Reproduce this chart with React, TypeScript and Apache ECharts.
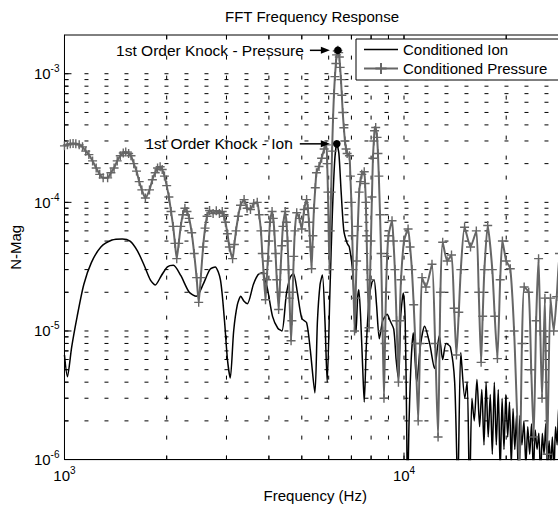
import React, { useEffect, useRef } from "react";
import * as echarts from "echarts";

const TITLE = "FFT Frequency Response";
const X_NAME = "Frequency (Hz)";
const Y_NAME = "N-Mag";
const ION_NAME = "Conditioned Ion";
const PRESSURE_NAME = "Conditioned Pressure";

const X_MIN = 1000;
const X_MAX = 30000;
const Y_MIN = 1e-6;
const Y_MAX = 2e-3;

const xGridValues = [2000, 3000, 4000, 5000, 6000, 7000, 8000, 9000, 10000, 20000];
const yGridValues = [
  2e-6, 3e-6, 4e-6, 5e-6, 6e-6, 7e-6, 8e-6, 9e-6, 1e-5,
  2e-5, 3e-5, 4e-5, 5e-5, 6e-5, 7e-5, 8e-5, 9e-5, 1e-4,
  2e-4, 3e-4, 4e-4, 5e-4, 6e-4, 7e-4, 8e-4, 9e-4, 1e-3,
];

// [frequency Hz, magnitude]
const ionPoints: [number, number][] = [
  [1000, 6.5e-6], [1020, 4.4e-6], [1050, 7.5e-6], [1090, 1.3e-5], [1140, 2.3e-5], [1200, 3.4e-5],
  [1280, 4.5e-5], [1380, 5.1e-5], [1480, 5.2e-5], [1560, 5e-5], [1640, 4.2e-5], [1720, 3.2e-5],
  [1790, 2.5e-5], [1851, 2.28e-5], [1930, 2.7e-5], [2010, 3.15e-5], [2093, 3.24e-5], [2200, 2.7e-5],
  [2330, 2e-5], [2446, 1.86e-5], [2560, 2.3e-5], [2680, 3e-5], [2779, 3.15e-5], [2880, 2.5e-5],
  [2960, 1.2e-5], [3020, 6e-6], [3078, 4.3e-6], [3150, 1e-5], [3230, 1.6e-5], [3306, 1.86e-5],
  [3380, 1.7e-5], [3457, 1.63e-5], [3600, 2.3e-5], [3720, 2.75e-5], [3821, 2.83e-5], [3950, 2.2e-5],
  [4100, 1.3e-5], [4250, 1.05e-5], [4369, 1e-5], [4500, 1.9e-5], [4620, 2.6e-5], [4726, 2.8e-5],
  [4850, 2e-5], [5000, 1.25e-5], [5166, 1.16e-5], [5300, 7e-6], [5464, 3.3e-6], [5560, 1.2e-5],
  [5660, 2.3e-5], [5750, 2.72e-5], [5850, 1.2e-5], [5940, 4e-6], [6050, 2e-5], [6150, 8e-5],
  [6250, 2.1e-4], [6340, 2.85e-4], [6430, 2.4e-4], [6530, 1.2e-4], [6650, 6e-5], [6800, 4.8e-5],
  [6900, 4.5e-5], [7050, 3e-5], [7150, 1.5e-5], [7219, 9.7e-6], [7300, 1.8e-5], [7360, 2.09e-5],
  [7450, 1.3e-5], [7560, 5e-6], [7636, 2.8e-6], [7750, 8e-6], [7900, 1.8e-5], [8050, 2.4e-5],
  [8165, 2.49e-5], [8300, 1.6e-5], [8460, 8.7e-6], [8650, 1.2e-5], [8800, 1.3e-5], [8915, 1.35e-5],
  [9100, 1.2e-5], [9330, 1.03e-5], [9480, 6e-6], [9640, 4.2e-6], [9780, 1.3e-5], [9950, 1.97e-5],
  [10080, 1.2e-5], [10180, 2e-6], [10240, 5e-7], [10350, 2e-6], [10500, 6e-6], [10650, 9.7e-6],
  [10900, 4e-6], [11200, 8e-6], [11500, 1.09e-5], [11900, 8e-6], [12300, 5.1e-6], [12700, 9.2e-6],
  [13000, 6e-6], [13300, 8e-6], [13700, 7.5e-6], [14100, 4e-6], [14400, 6e-7], [14700, 6.8e-6],
  [15100, 3e-6], [15350, 4e-6], [15600, 5e-7], [15850, 3e-6], [16100, 2e-6], [16400, 4.2e-6],
  [16700, 1.8e-6], [16950, 3.5e-6], [17200, 1.3e-6], [17450, 4e-6], [17700, 1.5e-6], [17950, 3.2e-6],
  [18200, 1.1e-6], [18450, 4e-6], [18700, 1.3e-6], [18950, 3.5e-6], [19200, 8e-7], [19450, 3e-6],
  [19700, 1.2e-6], [19950, 3.2e-6], [20200, 1.5e-6], [20450, 2.8e-6], [20700, 9e-7], [20950, 2.5e-6],
  [21200, 1.2e-6], [21450, 2.2e-6], [21700, 8e-7], [21950, 2.2e-6], [22250, 1.3e-6], [22550, 2e-6],
  [22850, 9e-7], [23150, 1.8e-6], [23450, 1.1e-6], [23750, 1.9e-6], [24050, 8e-7], [24350, 1.7e-6],
  [24650, 1.2e-6], [24950, 1.6e-6], [25250, 7e-7], [25550, 1.6e-6], [25850, 1.1e-6], [26150, 1.9e-6],
  [26450, 8e-7], [26750, 1.4e-6], [27050, 9e-7], [27350, 1.5e-6], [27650, 8e-7], [27950, 1.8e-6],
  [28250, 1.3e-6], [28550, 2.6e-6], [28850, 1.5e-6], [29150, 2.5e-6], [29450, 1.4e-6], [29750, 2.2e-6],
  [30000, 1.8e-6],
];

const pressurePoints: [number, number][] = [
  [1000, 2.75e-4], [1020, 2.8e-4], [1040, 2.85e-4], [1060, 2.87e-4], [1080, 2.85e-4], [1105, 2.8e-4],
  [1130, 2.7e-4], [1155, 2.5e-4], [1180, 2.35e-4], [1210, 2.1e-4], [1240, 1.85e-4], [1270, 1.65e-4],
  [1300, 1.55e-4], [1340, 1.55e-4], [1370, 1.7e-4], [1400, 1.85e-4], [1430, 2.1e-4], [1460, 2.3e-4],
  [1490, 2.42e-4], [1515, 2.46e-4], [1545, 2.4e-4], [1570, 2.3e-4], [1600, 2e-4], [1630, 1.75e-4],
  [1660, 1.45e-4], [1690, 1.25e-4], [1731, 1.08e-4], [1780, 1.25e-4], [1815, 1.5e-4], [1850, 1.7e-4],
  [1880, 1.85e-4], [1913, 1.89e-4], [1940, 1.8e-4], [1970, 1.6e-4], [2000, 1.35e-4], [2030, 1.1e-4],
  [2060, 8.5e-5], [2090, 6.5e-5], [2115, 4.8e-5], [2141, 3.65e-5], [2170, 4.8e-5], [2200, 6.5e-5],
  [2230, 8e-5], [2263, 9.0e-5], [2295, 8.5e-5], [2330, 7.5e-5], [2370, 5.8e-5], [2410, 4e-5],
  [2450, 2.6e-5], [2485, 1.67e-5], [2520, 2.6e-5], [2560, 4.5e-5], [2595, 6.3e-5], [2630, 7.8e-5],
  [2675, 8.65e-5], [2740, 8.2e-5], [2800, 8.6e-5], [2860, 8.2e-5], [2915, 8.5e-5], [2950, 7.8e-5],
  [2980, 7e-5], [3020, 5.7e-5], [3060, 4.5e-5], [3127, 3.65e-5], [3165, 4.7e-5], [3200, 6e-5],
  [3250, 7.8e-5], [3300, 9.5e-5], [3381, 1.05e-4], [3450, 9e-5], [3530, 8.8e-5], [3610, 9.8e-5],
  [3696, 1e-4], [3745, 8e-5], [3790, 6e-5], [3825, 4e-5], [3860, 2.8e-5], [3909, 1.75e-5],
  [3940, 2.5e-5], [3970, 3.5e-5], [4000, 5e-5], [4030, 7e-5], [4087, 8.5e-5], [4120, 7.5e-5],
  [4150, 6e-5], [4185, 4e-5], [4220, 2.5e-5], [4273, 1.47e-5], [4300, 2e-5], [4330, 3e-5],
  [4365, 4.6e-5], [4400, 6.5e-5], [4469, 8.5e-5], [4505, 7e-5], [4540, 5e-5], [4570, 3e-5],
  [4600, 1.8e-5], [4649, 8.4e-6], [4675, 1.2e-5], [4700, 2e-5], [4735, 3.8e-5], [4770, 6e-5],
  [4831, 8.3e-5], [4920, 7.5e-5], [4998, 6.2e-5], [5080, 8.8e-5], [5166, 1.05e-4], [5210, 9e-5],
  [5250, 7e-5], [5300, 4.5e-5], [5343, 3.05e-5], [5390, 5.5e-5], [5430, 9e-5], [5480, 1.3e-4],
  [5523, 1.7e-4], [5620, 1.9e-4], [5720, 2.2e-4], [5820, 2.6e-4], [5905, 2.8e-4], [5940, 2e-4],
  [5970, 1.2e-4], [6000, 6e-5], [6030, 3e-5], [6065, 6e-5], [6100, 1.2e-4], [6140, 2.5e-4],
  [6180, 4.5e-4], [6220, 7e-4], [6260, 9.5e-4], [6300, 1.2e-3], [6330, 1.4e-3], [6360, 1.5e-3],
  [6387, 1.52e-3], [6420, 1.46e-3], [6450, 1.35e-3], [6485, 1.12e-3], [6520, 9e-4], [6560, 6.8e-4],
  [6600, 5e-4], [6650, 3.8e-4], [6700, 3e-4], [6750, 2.6e-4], [6800, 2.4e-4], [6907, 2.3e-4],
  [6950, 1.6e-4], [7000, 1e-4], [7040, 5.5e-5], [7080, 3e-5], [7150, 1e-5], [7200, 1.8e-5],
  [7250, 3.5e-5], [7310, 6.5e-5], [7380, 1.2e-4], [7440, 1.45e-4], [7510, 1.65e-4], [7636, 1.73e-4],
  [7680, 1.4e-4], [7720, 1e-4], [7760, 5.5e-5], [7800, 3e-5], [7890, 1.06e-5], [7940, 2.5e-5],
  [7990, 5e-5], [8045, 1.1e-4], [8100, 2.2e-4], [8150, 3e-4], [8190, 3.6e-4], [8253, 3.82e-4],
  [8330, 3.2e-4], [8380, 2.4e-4], [8430, 1.6e-4], [8500, 8e-5], [8560, 4e-5], [8650, 1e-5],
  [8730, 3e-6], [8790, 8e-6], [8850, 2e-5], [8920, 3.8e-5], [9000, 5.5e-5], [9220, 7.2e-5],
  [9310, 5e-5], [9400, 3e-5], [9510, 1.2e-5], [9630, 4e-6], [9710, 1.2e-5], [9800, 2.5e-5],
  [10000, 5e-5], [10280, 6.2e-5], [10420, 4.5e-5], [10550, 3e-5], [10680, 1.6e-5], [10800, 8e-6],
  [11010, 2e-6], [11150, 8e-6], [11300, 2.6e-5], [11600, 2.2e-5], [12090, 3.3e-5], [12350, 8e-6],
  [12600, 1.5e-6], [12800, 2e-5], [13000, 4.9e-5], [13400, 3.5e-5], [13800, 3.9e-5], [14050, 1.5e-5],
  [14270, 6.5e-6], [14500, 1.4e-5], [14700, 3e-5], [15080, 6.4e-5], [15700, 4.5e-5], [16330, 6e-5],
  [16600, 2e-5], [16870, 5.7e-6], [17050, 1.3e-5], [17250, 3e-5], [17640, 6.6e-5], [18200, 3e-5],
  [18500, 1.3e-5], [18840, 6.1e-6], [19200, 2.5e-5], [19490, 5e-5], [20000, 3.5e-5], [20560, 3.05e-5],
  [21100, 1e-5], [21900, 8e-7], [22250, 8e-6], [22590, 2.2e-5], [23300, 2e-5], [23700, 5e-6],
  [24100, 1.5e-6], [24500, 1.2e-5], [24910, 3.65e-5], [25200, 1e-5], [25500, 3e-6], [26000, 1.8e-5],
  [26400, 1.1e-6], [27000, 1.8e-5], [27600, 1e-5], [28170, 1.85e-5], [28700, 4e-5], [29300, 8e-6],
  [30000, 2e-5],
];

const knockAnnotations = [
  { label: "1st Order Knock - Pressure", freq: 6387, mag: 1.52e-3, textGap: 34, arrowStart: 28, arrowTip: 8 },
  { label: "1st Order Knock - Ion", freq: 6340, mag: 2.85e-4, textGap: 44, arrowStart: 37, arrowTip: 7 },
];

const FONT = '"Liberation Sans", Arial, Helvetica, sans-serif';
const PRESSURE_COLOR = "#666666";

const expLabel = (v: number) => {
  const e = Math.log10(v);
  const r = Math.round(e);
  if (Math.abs(e - r) > 1e-6) return "";
  return `{b|10}{e|${r}}`;
};

const labelRich = {
  b: { fontSize: 15, fontFamily: FONT, color: "#000", lineHeight: 20 },
  e: { fontSize: 10, fontFamily: FONT, color: "#000", verticalAlign: "top", lineHeight: 11 },
};

export default function App() {
  const ref = useRef<HTMLDivElement>(null);

  useEffect(() => {
    if (!ref.current) return;
    const chart = echarts.init(ref.current, undefined, { renderer: "svg" });

    const option: any = {
      animation: false,
      backgroundColor: "#fff",
      title: {
        text: TITLE,
        left: "center",
        top: 9,
        padding: 0,
        textStyle: { fontSize: 15, fontWeight: "normal", fontFamily: FONT, color: "#000" },
      },
      legend: {
        orient: "vertical",
        left: 356,
        top: 39,
        data: [
          { name: ION_NAME, icon: "path://M0,0L34,0L34,1.6L0,1.6Z" },
          { name: PRESSURE_NAME },
        ],
        itemWidth: 34,
        itemHeight: 14,
        itemGap: 4,
        padding: [3, 30, 4, 7],
        borderColor: "#000",
        borderWidth: 1,
        backgroundColor: "#fff",
        selectedMode: false,
        textStyle: { fontSize: 15, fontFamily: FONT, color: "#000" },
        z: 20,
      },
      grid: {
        left: 58,
        right: 58,
        top: 35,
        bottom: 42,
        show: true,
        borderColor: "#000",
        borderWidth: 1,
        backgroundColor: "transparent",
      },
      xAxis: {
        type: "log",
        logBase: 10,
        min: X_MIN,
        max: X_MAX,
        interval: 1,
        name: X_NAME,
        nameLocation: "middle",
        nameGap: 26,
        nameTextStyle: { fontSize: 15, fontFamily: FONT, color: "#000", verticalAlign: "top" },
        axisLine: { show: true, lineStyle: { color: "#000", width: 1 } },
        axisTick: { show: false },
        splitLine: { show: false },
        minorTick: { show: false },
        axisLabel: { formatter: expLabel, rich: labelRich, margin: 6, color: "#000" },
      },
      yAxis: {
        type: "log",
        logBase: 10,
        min: Y_MIN,
        max: Y_MAX,
        interval: 1,
        name: Y_NAME,
        nameLocation: "middle",
        nameGap: 38,
        nameTextStyle: { fontSize: 15, fontFamily: FONT, color: "#000" },
        axisLine: { show: true, lineStyle: { color: "#000", width: 1 } },
        axisTick: { show: false },
        splitLine: { show: false },
        minorTick: { show: false },
        axisLabel: { formatter: expLabel, rich: labelRich, margin: 5, color: "#000" },
      },
      series: [
        {
          type: "custom",
          name: "xGrid",
          silent: true,
          z: 1,
          data: xGridValues.map((v) => [v, Y_MIN]),
          renderItem: (params: any, api: any) => {
            const cs = params.coordSys;
            const v = api.value(0);
            const x = api.coord([v, Y_MIN])[0];
            const major = Math.abs(Math.log10(v) - Math.round(Math.log10(v))) < 1e-6;
            const len = major ? 7 : 4;
            const bottom = cs.y + cs.height;
            return {
              type: "group",
              children: [
                { type: "line", shape: { x1: x, y1: bottom, x2: x, y2: cs.y }, style: { stroke: "#000", lineWidth: 1, lineDash: [4, 16] } },
                { type: "line", shape: { x1: x, y1: bottom, x2: x, y2: bottom - len }, style: { stroke: "#000", lineWidth: 1 } },
                { type: "line", shape: { x1: x, y1: cs.y, x2: x, y2: cs.y + len }, style: { stroke: "#000", lineWidth: 1 } },
              ],
            };
          },
        },
        {
          type: "custom",
          name: "yGrid",
          silent: true,
          z: 1,
          data: yGridValues.map((v) => [X_MIN, v]),
          renderItem: (params: any, api: any) => {
            const cs = params.coordSys;
            const v = api.value(1);
            const y = api.coord([X_MIN, v])[1];
            const major = Math.abs(Math.log10(v) - Math.round(Math.log10(v))) < 1e-6;
            const len = major ? 7 : 4;
            return {
              type: "group",
              children: [
                { type: "line", shape: { x1: cs.x, y1: y, x2: cs.x + cs.width, y2: y }, style: { stroke: "#000", lineWidth: 1, lineDash: [4, 16] } },
                { type: "line", shape: { x1: cs.x, y1: y, x2: cs.x + len, y2: y }, style: { stroke: "#000", lineWidth: 1 } },
              ],
            };
          },
        },
        {
          type: "line",
          name: ION_NAME,
          data: ionPoints,
          symbol: "none",
          smooth: 0.25,
          z: 3,
          lineStyle: { color: "#000", width: 1.5 },
          itemStyle: { color: "#000" },
        },
        {
          type: "line",
          name: PRESSURE_NAME,
          data: pressurePoints,
          symbol: "path://M5,0L5,10M0,5L10,5",
          symbolSize: 9,
          showSymbol: true,
          showAllSymbol: true,
          smooth: 0.2,
          z: 4,
          lineStyle: { color: PRESSURE_COLOR, width: 2 },
          itemStyle: { color: PRESSURE_COLOR, borderColor: PRESSURE_COLOR, borderWidth: 1.4 },
        },
      ],
    };

    chart.setOption(option);

    const graphics: any[] = [];
    knockAnnotations.forEach((a) => {
      const p = chart.convertToPixel({ gridIndex: 0 }, [a.freq, a.mag]) as number[];
      const [px, py] = p;
      graphics.push(
        { type: "circle", shape: { cx: px, cy: py, r: 3.8 }, style: { fill: "#000" }, z: 30 },
        {
          type: "text",
          x: px - a.textGap,
          y: py,
          style: { text: a.label, fill: "#000", fontSize: 15.5, fontFamily: FONT, align: "right", verticalAlign: "middle" },
          z: 30,
        },
        { type: "line", shape: { x1: px - a.arrowStart, y1: py, x2: px - a.arrowTip - 8, y2: py }, style: { stroke: "#000", lineWidth: 1.5 }, z: 30 },
        {
          type: "polygon",
          shape: { points: [[px - a.arrowTip, py], [px - a.arrowTip - 9, py - 3.5], [px - a.arrowTip - 9, py + 3.5]] },
          style: { fill: "#000" },
          z: 30,
        }
      );
    });
    chart.setOption({ graphic: graphics });

    return () => chart.dispose();
  }, []);

  return (
    <div style={{ position: "fixed", left: 0, top: 0, width: 558, height: 508, overflow: "hidden", background: "#fff" }}>
      <div ref={ref} style={{ width: 624, height: 508 }} />
    </div>
  );
}
